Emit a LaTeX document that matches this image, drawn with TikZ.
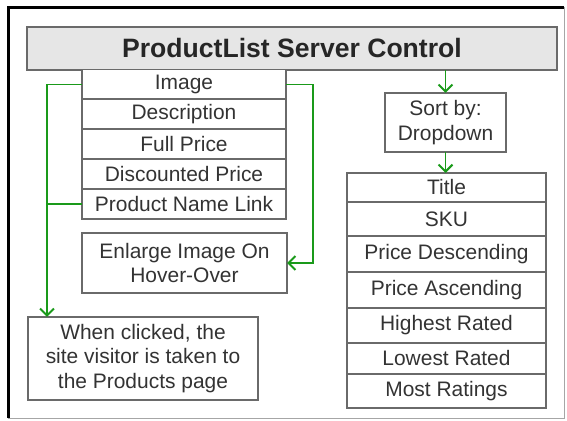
\documentclass[tikz,border=0pt]{standalone}
\usepackage{fontspec}
\setmainfont{Liberation Sans}
\usetikzlibrary{positioning,arrows.meta}
\definecolor{linkgreen}{HTML}{1A9A1A}
\definecolor{boxgray}{HTML}{6A6A6A}
\definecolor{titlefill}{HTML}{E6E6E6}
\definecolor{textgray}{HTML}{333333}

\tikzset{
  box/.style={draw=boxgray, line width=1.4pt, fill=white, text=textgray,
    font=\fontsize{14.9}{17.7}\selectfont, align=center, inner sep=0pt, outer sep=0pt},
  leftrow/.style={box, minimum width=5.1cm, minimum height=0.75cm},
  rightrow/.style={box, minimum width=4.975cm},
  wire/.style={linkgreen, line width=1.4pt},
  link/.style={wire, -{Straight Barb[length=5pt,width=10pt]}},
}

\begin{document}
\begin{tikzpicture}[x=0.025cm,y=-0.025cm]
  \useasboundingbox (0,0) rectangle (567,421);
  % Marco
  \draw[black!35, line width=0.7pt] (8,418) -- (564,418) -- (564,7);
  \draw[black, line width=2.2pt] (8.5,418) -- (8.5,7.5) -- (564,7.5);

  % Control
  \node[box, fill=titlefill, text=black!85, font=\fontsize{18.9}{22}\selectfont\bfseries,
    minimum width=13.25cm, minimum height=1.075cm] (ctrl) at (292,48.5) {ProductList Server Control};

  % Campos del producto
  \node[leftrow] (img)  at (184,84.5) {Image};
  \node[leftrow] (desc) at (184,114)  {Description};
  \node[leftrow] (full) at (184,144)  {Full Price};
  \node[leftrow] (disc) at (184,174)  {Discounted Price};
  \node[leftrow] (pnl)  at (184,204)  {Product Name Link};

  \node[box, minimum width=5.125cm, minimum height=1.5cm] (enl) at (184.5,263)
    {Enlarge Image On\\Hover-Over};
  \node[box, minimum width=5.75cm, minimum height=2.075cm] (click) at (143,358.5)
    {When clicked, the\\site visitor is taken to\\the Products page};

  % Orden
  \node[box, minimum width=3.025cm, minimum height=1.475cm] (sort) at (445.5,122.5)
    {Sort by:\\Dropdown};
  \foreach \n/\t/\y/\h in {tlt/Title/187.5/0.725, sku/SKU/219/0.85,
      pdesc/Price Descending/254/0.9, pasc/Price Ascending/290/0.9,
      hrate/Highest Rated/325.5/0.875, lrate/Lowest Rated/358.5/0.775,
      mrate/Most Ratings/391/0.85}{
    \node[rightrow, minimum height=\h cm] (\n) at (446.5,\y) {\t};
  }

  % Conexiones
  \coordinate (lbus) at (47,84.5);
  \coordinate (rbus) at (313,84.5);
  \draw[link] (img.west) -- (lbus) -- (lbus |- click.north);
  \draw[wire] (pnl.west) -- (lbus |- pnl.west);
  \draw[link] (img.east) -- (rbus) |- (enl.east);
  \draw[link] (sort.north |- ctrl.south) -- (sort.north);
  \draw[link] (sort.south) -- (sort.south |- tlt.north);
\end{tikzpicture}
\end{document}
